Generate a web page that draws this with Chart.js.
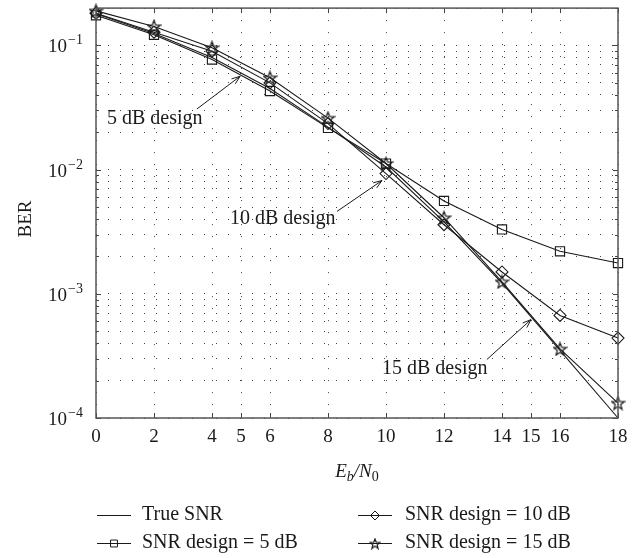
<!DOCTYPE html>
<html>
<head>
<meta charset="utf-8">
<script src="https://cdn.jsdelivr.net/npm/chart.js@4/dist/chart.umd.min.js"></script>
<style>
  html, body { margin: 0; padding: 0; background: #fff; }
  #wrap { width: 643px; height: 558px; }
</style>
</head>
<body>
<div id="wrap"><canvas id="c" width="643" height="558"></canvas></div>
<script>
// Eb/N0 points (dB)
const ebn0 = [0, 2, 4, 6, 8, 10, 12, 14, 16, 18];

// BER curves
const trueSnr  = [0.180, 0.125, 0.080, 0.045, 0.0220, 0.0105, 0.0038, 0.00122, 0.00035, 0.00010];
const design5  = [0.175, 0.122, 0.077, 0.043, 0.0217, 0.0112, 0.0056, 0.0033, 0.0022, 0.00177];
const design10 = [0.182, 0.128, 0.090, 0.050, 0.0235, 0.0093, 0.0036, 0.0015, 0.00067, 0.00044];
const design15 = [0.190, 0.142, 0.096, 0.055, 0.0260, 0.0112, 0.0041, 0.00125, 0.00036, 0.000132];

const seriesLabels = ['True SNR', 'SNR design = 5 dB', 'SNR design = 10 dB', 'SNR design = 15 dB'];

// axis ticks
const xTicks = [0, 2, 4, 5, 6, 8, 10, 12, 14, 15, 16, 18];
const yMajor = [1e-1, 1e-2, 1e-3, 1e-4];
const yMajorExp = ['\u22121', '\u22122', '\u22123', '\u22124'];
const yGrid = [];
for (let d = -4; d <= -1; d++) {
  for (let m = 1; m <= 9; m++) {
    const v = m * Math.pow(10, d);
    if (v <= 0.2 + 1e-9) yGrid.push(+v.toPrecision(3));
  }
}

// text callouts: label anchor and arrow, in data units
const notes = [
  { text: '5 dB design',  at: [0.38, 0.0256],   from: [3.48, 0.0308],  to: [4.97, 0.0565] },
  { text: '10 dB design', at: [4.62, 0.0040],   from: [8.31, 0.00461], to: [9.86, 0.00817] },
  { text: '15 dB design', at: [9.86, 0.000247], from: [13.48, 0.000296], to: [15.0, 0.00062] },
];

const SERIF = '"Liberation Serif", "DejaVu Serif", serif';
const INK = '#1a1a1a';

function starImage(size) {
  const cv = document.createElement('canvas');
  cv.width = size; cv.height = size;
  const g = cv.getContext('2d');
  const cx = size / 2, cy = size / 2 + 0.6, ro = size / 2 - 0.8, ri = ro * 0.42;
  g.beginPath();
  for (let i = 0; i < 10; i++) {
    const r = i % 2 ? ri : ro;
    const a = -Math.PI / 2 + i * Math.PI / 5;
    const px = cx + r * Math.cos(a), py = cy + r * Math.sin(a);
    if (i) g.lineTo(px, py); else g.moveTo(px, py);
  }
  g.closePath();
  g.strokeStyle = INK;
  g.lineWidth = 1.2;
  g.stroke();
  return cv;
}
const star = starImage(15);
const starSmall = starImage(12);

function pts(ys) {
  return ebn0.map((x, i) => ({ x, y: ys[i] }));
}

function lineSet(label, ys, pointStyle, radius) {
  return {
    label,
    data: pts(ys),
    borderColor: INK,
    borderWidth: 1.1,
    pointStyle: pointStyle || 'circle',
    pointRadius: pointStyle ? radius : 0,
    pointBorderColor: INK,
    pointBorderWidth: 1.1,
    pointBackgroundColor: 'rgba(0,0,0,0)',
    tension: 0,
    clip: false,
  };
}

const decor = {
  id: 'decor',
  afterDraw(chart) {
    const { ctx, chartArea: a, scales: { x, y } } = chart;
    ctx.save();

    // inward tick marks
    ctx.strokeStyle = '#444';
    ctx.lineWidth = 1;
    ctx.beginPath();
    for (const v of xTicks) {
      const px = Math.round(x.getPixelForValue(v)) + 0.5;
      ctx.moveTo(px, a.bottom); ctx.lineTo(px, a.bottom - 5);
      ctx.moveTo(px, a.top); ctx.lineTo(px, a.top + 5);
    }
    for (const v of yGrid) {
      const py = Math.round(y.getPixelForValue(v)) + 0.5;
      const len = yMajor.includes(v) ? 5 : 3;
      ctx.moveTo(a.left, py); ctx.lineTo(a.left + len, py);
      ctx.moveTo(a.right, py); ctx.lineTo(a.right - len, py);
    }
    ctx.stroke();

    // frame
    ctx.strokeStyle = '#555';
    ctx.lineWidth = 1.5;
    ctx.strokeRect(a.left, a.top, a.right - a.left, a.bottom - a.top);

    // y tick labels 10^-n
    ctx.fillStyle = INK;
    ctx.textBaseline = 'alphabetic';
    yMajor.forEach((v, i) => {
      const py = y.getPixelForValue(v);
      ctx.font = `19px ${SERIF}`;
      ctx.textAlign = 'right';
      ctx.fillText('10', 67, py + 7);
      ctx.font = `14px ${SERIF}`;
      ctx.textAlign = 'left';
      ctx.fillText(yMajorExp[i], 68, py - 1);
    });

    // y title
    ctx.save();
    ctx.translate(31, 219);
    ctx.rotate(-Math.PI / 2);
    ctx.font = `19px ${SERIF}`;
    ctx.textAlign = 'center';
    ctx.textBaseline = 'alphabetic';
    ctx.fillText('BER', 0, 0);
    ctx.restore();

    // x title  E_b / N_0
    const parts = [
      { t: 'E', f: `italic 19px ${SERIF}`, dy: 0 },
      { t: 'b', f: `italic 14px ${SERIF}`, dy: 4 },
      { t: '/', f: `italic 19px ${SERIF}`, dy: 0 },
      { t: 'N', f: `italic 19px ${SERIF}`, dy: 0 },
      { t: '0', f: `14px ${SERIF}`, dy: 4 },
    ];
    let w = 0;
    for (const p of parts) { ctx.font = p.f; p.w = ctx.measureText(p.t).width; w += p.w; }
    let cx = (a.left + a.right) / 2 - w / 2;
    ctx.textAlign = 'left';
    for (const p of parts) {
      ctx.font = p.f;
      ctx.fillText(p.t, cx, 477 + p.dy);
      cx += p.w;
    }

    // callouts
    ctx.font = `20px ${SERIF}`;
    ctx.textBaseline = 'middle';
    ctx.strokeStyle = INK;
    ctx.lineWidth = 1;
    for (const n of notes) {
      ctx.fillText(n.text, x.getPixelForValue(n.at[0]), y.getPixelForValue(n.at[1]));
      const x1 = x.getPixelForValue(n.from[0]), y1 = y.getPixelForValue(n.from[1]);
      const x2 = x.getPixelForValue(n.to[0]), y2 = y.getPixelForValue(n.to[1]);
      const ang = Math.atan2(y2 - y1, x2 - x1);
      ctx.beginPath();
      ctx.moveTo(x1, y1); ctx.lineTo(x2, y2);
      for (const s of [-1, 1]) {
        ctx.moveTo(x2, y2);
        ctx.lineTo(x2 - 9 * Math.cos(ang + s * 0.35), y2 - 9 * Math.sin(ang + s * 0.35));
      }
      ctx.stroke();
    }

    // legend, two columns
    const cols = [[97, 142], [358, 405]];
    const rows = [515, 543];
    const order = [[0, 0, 0], [1, 0, 1], [2, 1, 0], [3, 1, 1]];
    ctx.font = `20px ${SERIF}`;
    ctx.textBaseline = 'middle';
    for (const [di, c, r] of order) {
      const ds = chart.data.datasets[di];
      const [lx, tx] = cols[c];
      const ly = rows[r] + 0.5;
      ctx.strokeStyle = INK;
      ctx.lineWidth = 1;
      ctx.beginPath();
      ctx.moveTo(lx, ly); ctx.lineTo(lx + 34, ly);
      ctx.stroke();
      if (ds.pointRadius > 0) {
        let style = ds.pointStyle;
        if (style === star) style = starSmall;
        ctx.fillStyle = 'rgba(0,0,0,0)';
        ctx.strokeStyle = INK;
        Chart.helpers.drawPoint(ctx, {
          pointStyle: style, radius: ds.pointRadius * 0.75, borderWidth: 1, rotation: 0,
        }, lx + 17, ly);
      }
      ctx.fillStyle = INK;
      ctx.fillText(ds.label, tx, rows[r]);
    }
    ctx.restore();
  },
};

const dotted = {
  color: '#444',
  lineWidth: 1,
  drawTicks: false,
};

new Chart(document.getElementById('c'), {
  type: 'line',
  data: {
    datasets: [
      lineSet(seriesLabels[0], trueSnr),
      lineSet(seriesLabels[1], design5, 'rect', 6.5),
      lineSet(seriesLabels[2], design10, 'rectRot', 6),
      lineSet(seriesLabels[3], design15, star, 7),
    ],
  },
  options: {
    responsive: false,
    animation: false,
    layout: { padding: { top: 7, right: 25, left: 0, bottom: 0 } },
    plugins: { legend: { display: false }, tooltip: { enabled: false } },
    scales: {
      x: {
        type: 'linear',
        min: 0,
        max: 18,
        afterBuildTicks: (s) => { s.ticks = xTicks.map((v) => ({ value: v })); },
        afterFit: (s) => { s.height = 140; },
        grid: dotted,
        border: { display: false, dash: [1, 11] },
        ticks: {
          autoSkip: false, maxRotation: 0, padding: 8, color: INK,
          font: { family: SERIF, size: 19 },
          callback: (v) => String(v),
        },
      },
      y: {
        type: 'logarithmic',
        min: 1e-4,
        max: 0.2,
        afterBuildTicks: (s) => { s.ticks = yGrid.map((v) => ({ value: v })); },
        afterFit: (s) => { s.width = 96; },
        grid: dotted,
        border: { display: false, dash: [1, 11] },
        ticks: { display: false },
      },
    },
  },
  plugins: [decor],
});
</script>
</body>
</html>
